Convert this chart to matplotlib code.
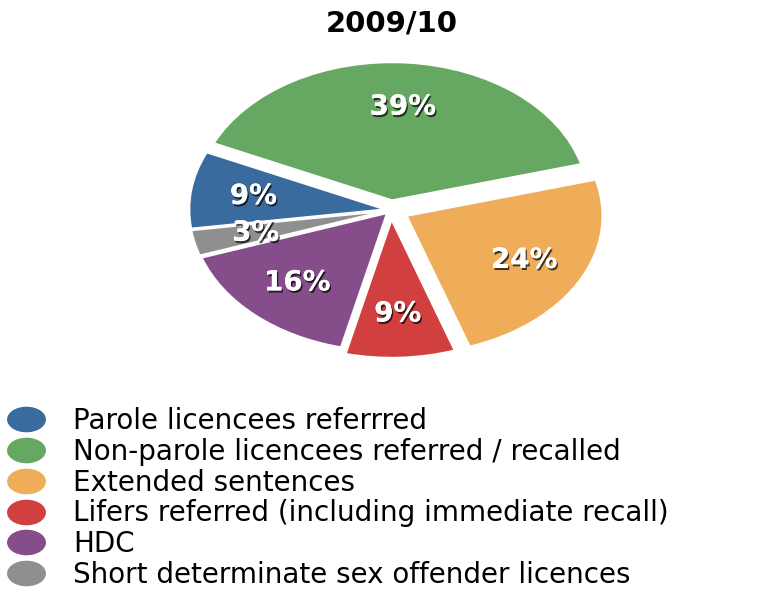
import matplotlib.pyplot as plt
import matplotlib.patheffects as pe
from matplotlib.lines import Line2D
from matplotlib.path import Path
from matplotlib.transforms import Affine2D

plt.rcParams['font.family'] = ['DejaVu Sans']

# data
categories = ['Parole licencees referrred',
              'Non-parole licencees referred / recalled',
              'Extended sentences',
              'Lifers referred (including immediate recall)',
              'HDC',
              'Short determinate sex offender licences']
shares = [9, 39, 24, 9, 16, 3]
colors = ['#3a6b9e', '#66a862', '#efad5a', '#d13f3f', '#854d8a', '#8f8f8f']
explode = [0.03, 0.07, 0.09, 0.07, 0.03, 0.03]

fig = plt.figure(figsize=(7.75, 5.94), dpi=100)
fig.patch.set_facecolor('white')

# pie drawn in a stretched axes so it comes out elliptical
ax = fig.add_axes([175.5 / 775, 1 - 362 / 594, 431 / 775, 304 / 594])
wedges, texts, autotexts = ax.pie(
    shares, colors=colors, explode=explode, startangle=188,
    counterclock=False, autopct='%d%%', pctdistance=0.68,
    wedgeprops=dict(edgecolor='white', linewidth=1.5),
    textprops=dict(color='white', fontsize=20, fontweight='bold'))
for t in autotexts:
    t.set_path_effects([pe.withSimplePatchShadow(offset=(1, -1.5), shadow_rgbFace='black', alpha=0.7),
                        pe.Normal()])
ax.set_aspect('auto')
ax.set_xlim(-1.1, 1.1)
ax.set_ylim(-1.1, 1.1)
ax.axis('off')

fig.text(0.506, 0.961, '2009/10', ha='center', va='center',
         fontsize=21, fontweight='bold')

# legend with wide oval markers
oval = Path.unit_circle().transformed(Affine2D().scale(1.55, 1.0))
handles = [Line2D([], [], marker=oval, linestyle='none', markersize=27,
                  markerfacecolor=c, markeredgecolor=c) for c in colors]
fig.legend(handles, categories, loc='upper left', bbox_to_anchor=(4 / 775, 1 - 407 / 594),
           frameon=False, fontsize=20, handletextpad=0.9, labelspacing=0.1,
           borderpad=0, borderaxespad=0, handlelength=1.6)

fig.savefig('out.png', dpi=100)
